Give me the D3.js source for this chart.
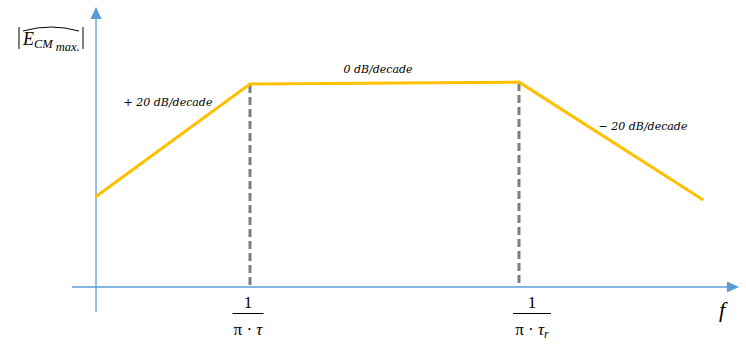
<!DOCTYPE html>
<html>
<head>
<meta charset="utf-8">
<script src="https://cdn.jsdelivr.net/npm/d3@7"></script>
<style>
  body { margin: 0; background: #fff; }
  text { font-family: "Liberation Serif", serif; fill: #000; }
</style>
</head>
<body>
<div id="chart"></div>
<script>
// asymptotic magnitude plot: x in decades, y in arbitrary level units
var decades = [-0.15, 1, 3, 4.37];
var levels = [3.46, 7.81, 7.88, 3.35];
var corners = [1, 3];
var slopeLabels = ["+ 20 dB/decade", "0 dB/decade", "\u2212 20 dB/decade"];

var width = 746, height = 344;

var svg = d3.select("#chart").append("svg")
    .attr("width", width)
    .attr("height", height);

var x = d3.scaleLinear().domain([0, 4]).range([115.5, 653.5]);
var y = d3.scaleLinear().domain([0, 10]).range([287, 27]);

var axisColor = "#5b9bd5";

// axes
svg.append("line")
    .attr("x1", 96).attr("x2", 96)
    .attr("y1", 312).attr("y2", 18)
    .attr("stroke", axisColor).attr("stroke-width", 1.3);
svg.append("path")
    .attr("d", "M96,7 L90.5,19 L101.5,19 Z")
    .attr("fill", axisColor);

svg.append("line")
    .attr("x1", 72).attr("x2", 728)
    .attr("y1", y(0)).attr("y2", y(0))
    .attr("stroke", axisColor).attr("stroke-width", 1.3);
svg.append("path")
    .attr("d", "M739," + y(0) + " L727," + (y(0) - 5.5) + " L727," + (y(0) + 5.5) + " Z")
    .attr("fill", axisColor);

// dashed verticals at the corner frequencies
var pts = decades.map(function(d, i) { return [d, levels[i]]; });
svg.selectAll("line.corner")
    .data(corners)
    .enter().append("line")
    .attr("class", "corner")
    .attr("x1", function(d) { return x(d); })
    .attr("x2", function(d) { return x(d); })
    .attr("y1", function(d) { return y(levels[decades.indexOf(d)]) + 1; })
    .attr("y2", y(0) - 1)
    .attr("stroke", "#7f7f7f")
    .attr("stroke-width", 3)
    .attr("stroke-dasharray", "8,4");

// the curve
svg.append("path")
    .datum(pts)
    .attr("fill", "none")
    .attr("stroke", "#ffc000")
    .attr("stroke-width", 3)
    .attr("d", d3.line()
        .x(function(d) { return x(d[0]); })
        .y(function(d) { return y(d[1]); }));

// slope labels
var labelPos = [[168, 106], [378, 73], [643, 130]];
svg.selectAll("text.slope")
    .data(slopeLabels)
    .enter().append("text")
    .attr("class", "slope")
    .attr("x", function(d, i) { return labelPos[i][0]; })
    .attr("y", function(d, i) { return labelPos[i][1]; })
    .attr("text-anchor", "middle")
    .style("font-family", "'DejaVu Serif', serif")
    .attr("font-size", 11)
    .attr("font-style", "italic")
    .text(function(d) { return d; });

// y label |E_CM max.| with hat
var yl = svg.append("text").attr("x", 23).attr("y", 45).attr("font-size", 18);
yl.append("tspan").attr("font-style", "italic").text("E");
yl.append("tspan").attr("font-style", "italic").attr("font-size", 12.5).attr("dy", 3).text("CM");
yl.append("tspan").attr("font-style", "italic").attr("font-size", 12.5).attr("dy", 3).attr("dx", 3).text("max.");
[19, 83].forEach(function(bx) {
    svg.append("line")
        .attr("x1", bx).attr("x2", bx)
        .attr("y1", 27).attr("y2", 49)
        .attr("stroke", "#000").attr("stroke-width", 1);
});
svg.append("path")
    .attr("d", "M23,31 Q51,23 79,31")
    .attr("fill", "none")
    .attr("stroke", "#000")
    .attr("stroke-width", 1);

// fraction tick labels
var fracs = [{cx: 248, sub: false, w: 31}, {cx: 532, sub: true, w: 38}];
fracs.forEach(function(f) {
    svg.append("text")
        .attr("x", f.cx).attr("y", 308)
        .attr("text-anchor", "middle")
        .attr("font-size", 17)
        .text("1");
    svg.append("line")
        .attr("x1", f.cx - f.w / 2).attr("x2", f.cx + f.w / 2)
        .attr("y1", 313.5).attr("y2", 313.5)
        .attr("stroke", "#000").attr("stroke-width", 1);
    var t = svg.append("text")
        .attr("x", f.cx).attr("y", 335)
        .attr("text-anchor", "middle")
        .attr("font-size", 17);
    t.append("tspan").text("\u03c0 \u00b7 ");
    t.append("tspan").attr("font-style", "italic").text("\u03c4");
    if (f.sub) {
        t.append("tspan").attr("font-style", "italic").attr("font-size", 12).attr("dy", 3).text("r");
    }
});

svg.append("text")
    .attr("x", 722).attr("y", 317)
    .attr("text-anchor", "middle")
    .attr("font-size", 22)
    .attr("font-style", "italic")
    .text("f");
</script>
</body>
</html>
